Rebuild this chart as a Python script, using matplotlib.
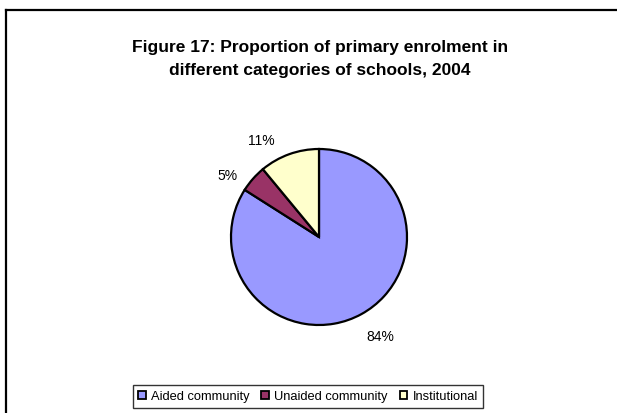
import matplotlib
matplotlib.use("Agg")
import matplotlib.pyplot as plt
from matplotlib.lines import Line2D
from matplotlib.patches import Patch

plt.rcParams['font.family'] = ['Liberation Sans', 'DejaVu Sans']

categories = ["Aided community", "Unaided community", "Institutional"]
shares = [84, 5, 11]
colors = ["#9999FF", "#993366", "#FFFFCC"]
title = "Figure 17: Proportion of primary enrolment in\ndifferent categories of schools, 2004"

# label anchor points, in units of the pie radius
label_pos = [(0.70, -1.13), (-1.04, 0.71), (-0.66, 1.10)]

W, H, DPI = 617, 414, 100
fig = plt.figure(figsize=(W / DPI, H / DPI), dpi=DPI)
fig.patch.set_facecolor("white")

# chart-area frame (top and left edges visible)
fig.add_artist(Line2D([6 / W, 1.0], [1 - 11 / H, 1 - 11 / H], transform=fig.transFigure,
                      color="black", lw=1.6))
fig.add_artist(Line2D([6 / W, 6 / W], [1 - 11 / H, 0.0], transform=fig.transFigure,
                      color="black", lw=1.6))

fig.text(320 / W, 1 - 59 / H, title, ha="center", va="center", fontsize=12.5,
         fontweight="bold", linespacing=1.6)

# pie axes: centre and radius in pixels
cx, cy, r = 319, 238, 76
half = 110
ax = fig.add_axes([(cx - half) / W, (H - cy - half) / H, 2 * half / W, 2 * half / H])
ax.set_xlim(-half / r, half / r)
ax.set_ylim(-half / r, half / r)
ax.set_aspect("equal")
ax.axis("off")

wedges, _ = ax.pie(shares, colors=colors, startangle=90, counterclock=False,
                   radius=1.0, wedgeprops=dict(edgecolor="black", linewidth=1.6))
for val, (x, y) in zip(shares, label_pos):
    ax.text(x, y, f"{val}%", ha="center", va="center", fontsize=10)

handles = [Patch(facecolor=c, edgecolor="black", linewidth=1.3) for c in colors]
leg = fig.legend(handles, categories, loc="center", bbox_to_anchor=(308 / W, 1 - 397.5 / H),
                 ncol=3, fontsize=9.3, frameon=True, fancybox=False, edgecolor="black",
                 handlelength=0.6, handleheight=0.6, handletextpad=0.4, columnspacing=0.9,
                 borderpad=0.4, borderaxespad=0)
leg.get_frame().set_linewidth(1.0)

fig.savefig("out.png", dpi=DPI, facecolor="white")
